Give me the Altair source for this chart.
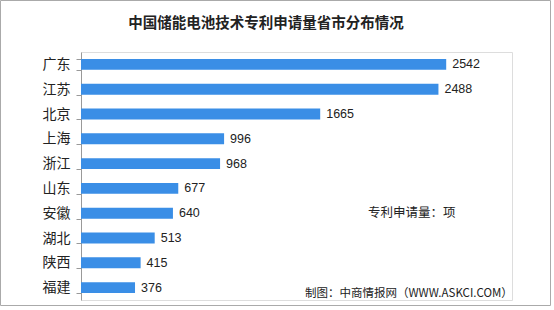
import altair as alt
import pandas as pd

provinces = ["广东", "江苏", "北京", "上海", "浙江", "山东", "安徽", "湖北", "陕西", "福建"]
patents = [2542, 2488, 1665, 996, 968, 677, 640, 513, 415, 376]
title_text = "中国储能电池技术专利申请量省市分布情况"
unit_text = "专利申请量：项"
source_text = "制图：中商情报网（WWW.ASKCI.COM）"

df = pd.DataFrame({"province": provinces, "patents": patents})

W, H = 431, 248
PL, PT = 81, 52

y_enc = alt.Y("province:N", sort=provinces, title=None,
              scale=alt.Scale(paddingInner=0.56, paddingOuter=0.28),
              axis=alt.Axis(labelFont="Noto Sans CJK SC", labelFontSize=14, labelColor="#222",
                            labelPadding=6, domainColor="#999", tickColor="#999",
                            tickBand="extent", tickSize=5))
x_enc = alt.X("patents:Q", scale=alt.Scale(domain=[0, 3000]), axis=None)

bars = alt.Chart(df).mark_bar(color="#3a8ee6").encode(x=x_enc, y=y_enc)
labels = alt.Chart(df).mark_text(align="left", dx=6, font="Liberation Sans", fontSize=12.5,
                                 color="#222").encode(x=x_enc, y=y_enc, text="patents:Q")

frame = alt.Chart(df.head(1)).mark_rect(fill=None, stroke="#aaa", strokeWidth=1).encode(
    x=alt.value(-PL + 0.5), x2=alt.value(551 - PL - 0.5),
    y=alt.value(-PT + 0.5), y2=alt.value(306 - PT - 0.5))

title = alt.Chart(df.head(1)).mark_text(align="center", baseline="middle",
                                        font="Noto Sans CJK SC", fontSize=14.5,
                                        fontWeight="bold", color="#222").encode(
    x=alt.value(266 - PL), y=alt.value(24 - PT), text=alt.value(title_text))
unit = alt.Chart(df.head(1)).mark_text(align="left", baseline="middle",
                                       font="Noto Sans CJK SC", fontSize=12.5,
                                       color="#222").encode(
    x=alt.value(368 - PL), y=alt.value(213 - PT), text=alt.value(unit_text))
source = alt.Chart(df.head(1)).mark_text(align="left", baseline="middle",
                                         font="Noto Sans CJK SC", fontSize=11.5,
                                         color="#222").encode(
    x=alt.value(305 - PL), y=alt.value(294 - PT), text=alt.value(source_text))

chart = alt.layer(frame, bars, labels, title, unit, source).properties(
    width=W, height=H,
    autosize=alt.AutoSizeParams(type="none"),
    padding={"left": PL, "top": PT, "right": 554 - PL - W, "bottom": 310 - PT - H},
).configure_view(stroke=None).configure(background="white")

chart.save("out.html", embed_options={"renderer": "svg", "actions": False})
